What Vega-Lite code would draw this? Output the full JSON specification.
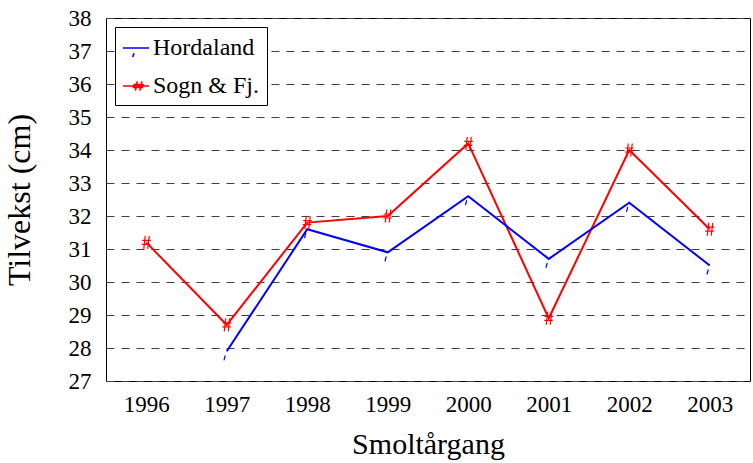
{
  "$schema": "https://vega.github.io/schema/vega-lite/v6.json",
  "width": 644,
  "height": 363,
  "autosize": {"type": "none"},
  "padding": {"left": 106, "top": 18, "right": 3, "bottom": 82},
  "background": "white",
  "config": {
    "font": "Liberation Serif",
    "view": {"stroke": "black", "strokeWidth": 1},
    "axis": {"labelFont": "Liberation Serif", "titleFont": "Liberation Serif", "labelColor": "black", "titleColor": "black", "titleFontWeight": "normal"},
    "legend": {"labelFont": "Liberation Serif", "labelColor": "black"}
  },
  "data": {
    "values": [
      {"year": "1996", "series": "Sogn & Fj.", "value": 31.2},
      {"year": "1997", "series": "Sogn & Fj.", "value": 28.7},
      {"year": "1998", "series": "Sogn & Fj.", "value": 31.8},
      {"year": "1999", "series": "Sogn & Fj.", "value": 32.0},
      {"year": "2000", "series": "Sogn & Fj.", "value": 34.2},
      {"year": "2001", "series": "Sogn & Fj.", "value": 28.9},
      {"year": "2002", "series": "Sogn & Fj.", "value": 34.0},
      {"year": "2003", "series": "Sogn & Fj.", "value": 31.6},
      {"year": "1997", "series": "Hordaland", "value": 27.9},
      {"year": "1998", "series": "Hordaland", "value": 31.6},
      {"year": "1999", "series": "Hordaland", "value": 30.9},
      {"year": "2000", "series": "Hordaland", "value": 32.6},
      {"year": "2001", "series": "Hordaland", "value": 30.7},
      {"year": "2002", "series": "Hordaland", "value": 32.4},
      {"year": "2003", "series": "Hordaland", "value": 30.5}
    ]
  },
  "encoding": {
    "x": {
      "field": "year", "type": "ordinal", "title": "Smoltårgang",
      "scale": {"type": "point", "padding": 0.5, "domain": ["1996","1997","1998","1999","2000","2001","2002","2003"]},
      "axis": {"labelAngle": 0, "labelFontSize": 23, "labelPadding": 12, "ticks": false, "domain": false, "grid": false, "titleFontSize": 30, "titlePadding": 13}
    },
    "y": {
      "field": "value", "type": "quantitative", "title": "Tilvekst (cm)",
      "scale": {"domain": [27, 38], "nice": false, "zero": false},
      "axis": {"values": [27,28,29,30,31,32,33,34,35,36,37,38], "labelFontSize": 23, "labelPadding": 15, "ticks": false, "domain": false, "grid": true, "gridColor": "#404040", "gridDash": [8, 7], "gridWidth": 1, "gridOpacity": 1, "titleFontSize": 32, "titlePadding": 32}
    }
  },
  "layer": [
    {
      "mark": {"type": "line", "strokeWidth": 2},
      "encoding": {
        "color": {
          "field": "series", "type": "nominal",
          "scale": {"domain": ["Hordaland", "Sogn & Fj."], "range": ["#0000ff", "#ff0000"]},
          "legend": {
            "title": null, "orient": "none", "legendX": 9, "legendY": 9,
            "strokeColor": "black", "fillColor": "white", "padding": 7,
            "labelFont": "Liberation Serif", "labelFontSize": 24, "labelOffset": 3, "rowPadding": 11, "labelLimit": 400,
            "symbolType": "stroke", "symbolSize": 676, "symbolStrokeWidth": 1.6,
            "labelExpr": "datum.label + '\u2003'",
            "encode": {
              "symbols": {
                "update": {
                  "shape": {"signal": "datum.value === 'Hordaland' ? 'M-1,0L1,0M-0.15,0.4L-0.25,0.7' : 'M-1,0L1,0M-0.05,0.35L0.1,-0.35M0.3,0.35L0.45,-0.35M-0.2,-0.12L0.6,-0.12M-0.25,0.12L0.55,0.12'"},
                  "fill": {"value": "transparent"}
                }
              }
            }
          }
        }
      }
    },
    {
      "transform": [{"filter": "datum.series === 'Hordaland'"}],
      "mark": {"type": "point", "filled": false, "stroke": "#0000ff", "strokeWidth": 1.2, "size": 100, "opacity": 1, "shape": "M-0.3,0.8L-0.56,1.8"}
    },
    {
      "transform": [{"filter": "datum.series === 'Sogn & Fj.'"}],
      "mark": {"type": "point", "filled": false, "stroke": "#ff0000", "strokeWidth": 1.2, "size": 100, "opacity": 1, "shape": "M-0.5,1.3L-0.2,-1.3M0.3,1.3L0.6,-1.3M-0.8,-0.4L0.9,-0.4M-0.9,0.4L0.8,0.4"}
    }
  ]
}
